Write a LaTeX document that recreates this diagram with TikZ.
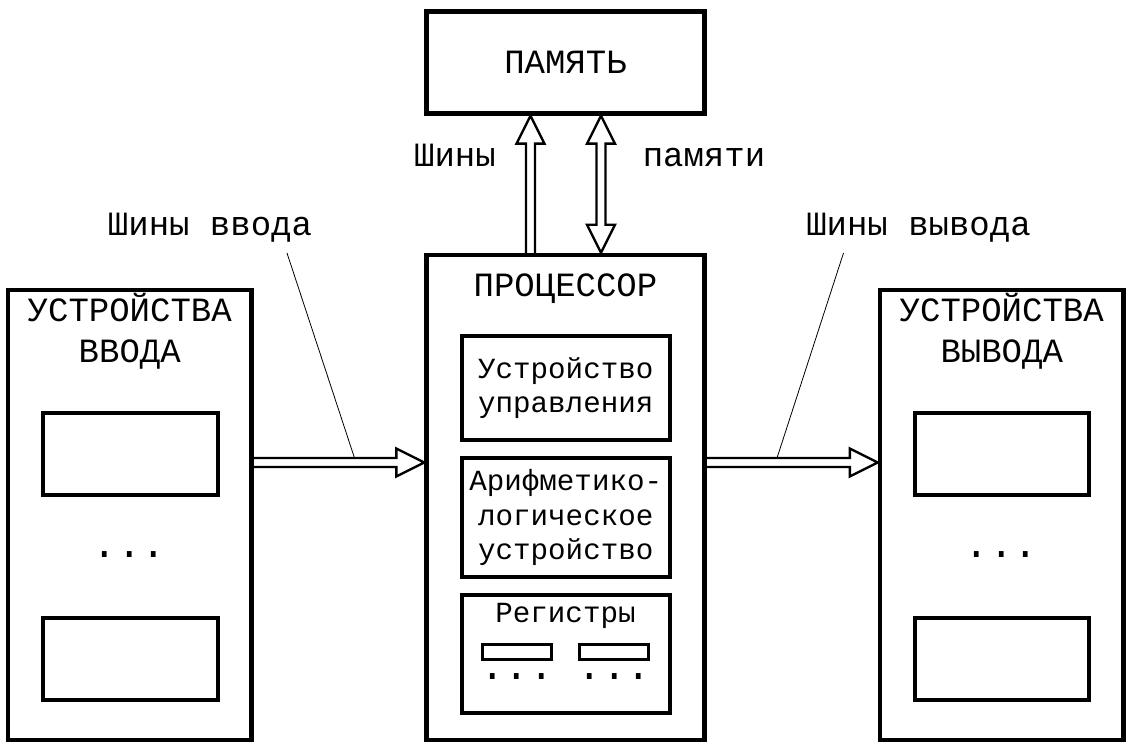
\documentclass[tikz,border=0pt]{standalone}
\usepackage{fontspec}
\setmainfont{Liberation Mono}
\usetikzlibrary{calc}
\tikzset{
  unit/.style={draw, line width=2.2pt, inner sep=0pt},
  part/.style={draw, line width=2pt, inner sep=0pt},
  reg/.style={draw, line width=1.35pt, inner sep=0pt, minimum width=34.25pt, minimum height=7.5pt},
  big/.style={font=\fontsize{17}{20.5}\selectfont, inner sep=0pt, align=center},
  small/.style={font=\fontsize{14.6}{17.25}\selectfont, inner sep=0pt, align=center},
  dots/.style={font=\fontsize{20.4}{24}\selectfont, inner sep=0pt},
  leader/.style={line width=0.4pt},
  bus/.style={draw, line width=1.2pt, line join=miter, to path={
    let \p1=(\tikztostart), \p2=(\tikztotarget), \p3=($(\p2)!14pt!(\p1)$) in
    ($(\p1)!2.25pt!90:(\p2)$) -- ($(\p3)!2.25pt!-90:(\p1)$) -- ($(\p3)!7pt!-90:(\p1)$) -- (\p2)
    -- ($(\p3)!7pt!90:(\p1)$) -- ($(\p3)!2.25pt!90:(\p1)$) -- ($(\p1)!2.25pt!-90:(\p2)$)}},
  dbus/.style={draw, line width=1.2pt, line join=miter, to path={
    let \p1=(\tikztostart), \p2=(\tikztotarget), \p3=($(\p2)!14pt!(\p1)$), \p4=($(\p1)!14pt!(\p2)$) in
    (\p1) -- ($(\p4)!7pt!90:(\p2)$) -- ($(\p4)!2.25pt!90:(\p2)$) -- ($(\p3)!2.25pt!-90:(\p1)$)
    -- ($(\p3)!7pt!-90:(\p1)$) -- (\p2) -- ($(\p3)!7pt!90:(\p1)$) -- ($(\p3)!2.25pt!90:(\p1)$)
    -- ($(\p4)!2.25pt!-90:(\p2)$) -- ($(\p4)!7pt!-90:(\p2)$) -- cycle}}
}
\begin{document}
\begin{tikzpicture}[x=0.5pt, y=-0.5pt]
\useasboundingbox (0,0) rectangle (1131,753);
% main units
\node[unit, big, minimum width=139pt, minimum height=51pt] (mem) at (565.5,62.5) {ПАМЯТЬ};
\node[unit, minimum width=139pt, minimum height=242.5pt] (proc) at (565.5,497.5) {};
\node[unit, minimum width=121.75pt, minimum height=225pt] (inp) at (129.75,515) {};
\node[unit, minimum width=121.75pt, minimum height=225pt] (out) at (1001.75,515) {};
\node[big, anchor=base] (proctxt) at (565.5,297) {ПРОЦЕССОР};
\node[big, anchor=base] (inptxt) at (129.75,363) {УСТРОЙСТВА\\ВВОДА};
\node[big, anchor=base] (outtxt) at (1001.75,363) {УСТРОЙСТВА\\ВЫВОДА};
% devices
\node[part, minimum width=87.25pt, minimum height=41pt] (in1) at (130.25,454) {};
\node[part, minimum width=87.25pt, minimum height=41pt] (in2) at (130.25,659) {};
\node[dots] (indots) at (129.7,555) {...};
\node[part, minimum width=87.25pt, minimum height=41pt] (out1) at (1002,454) {};
\node[part, minimum width=87.25pt, minimum height=41pt] (out2) at (1002,659) {};
\node[dots] (outdots) at (1001.5,555) {...};
% processor parts
\node[part, small, minimum width=104.25pt, minimum height=51.75pt] (ctrl) at (565.75,388.25) {Устройство\\управления};
\node[part, small, minimum width=104.25pt, minimum height=59.5pt] (alu) at (565.75,517.5) {Арифметико-\\логическое\\устройство};
\node[part, minimum width=104.25pt, minimum height=59pt] (regs) at (565.75,654) {};
\node[small, anchor=base] (regtxt) at (565.5,623) {Регистры};
\node[reg] (reg1) at (517,652) {};
\node[reg] (reg2) at (614,652) {};
\node[dots] (regdots1) at (517,677) {...};
\node[dots] (regdots2) at (614.5,677) {...};
% buses
\coordinate (inbus) at (0,462.5);
\coordinate (upbus) at (530.5,0);
\coordinate (rwbus) at (601,0);
\draw[bus] (inp.east |- inbus) to (proc.west |- inbus);
\draw[bus] (proc.east |- inbus) to (out.west |- inbus);
\draw[bus] (proc.north -| upbus) to (mem.south -| upbus);
\draw[dbus] (proc.north -| rwbus) to (mem.south -| rwbus);
\node[big, anchor=base] (memlbl1) at (455,167) {Шины};
\node[big, anchor=base] (memlbl2) at (704,167) {памяти};
\node[big, anchor=base] (inlbl) at (210,236) {Шины ввода};
\node[big, anchor=base] (outlbl) at (918.5,236) {Шины вывода};
\coordinate (inlead) at (287,253);
\coordinate (intap) at (354.5,458);
\coordinate (outlead) at (843.5,253);
\coordinate (outtap) at (777,458);
\draw[leader] (inlead) -- (intap);
\draw[leader] (outlead) -- (outtap);
\end{tikzpicture}
\end{document}
